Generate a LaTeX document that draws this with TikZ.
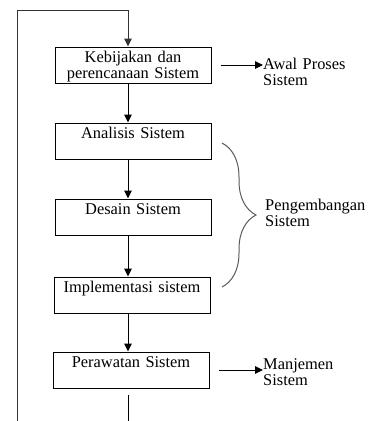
\documentclass[tikz,border=0pt]{standalone}
\usepackage{fontspec}
\setmainfont{Liberation Serif}
\usetikzlibrary{arrows.meta,decorations.pathreplacing}

\begin{document}
\begin{tikzpicture}[x=1pt,y=-1pt,font=\fontsize{16.4}{16}\selectfont,
  box/.style={draw,line width=1pt,text width=150pt,align=center,inner xsep=3pt,inner ysep=0pt,text height=15.5pt,text depth=20.5pt},
  side/.style={text width=105pt,align=left,inner sep=0pt},
  arr/.style={line width=1pt,-{Triangle[length=8pt,width=7.5pt]}},
  brace/.style={decorate,decoration={brace,amplitude=34pt},draw=black!65,line width=1pt}]
  \useasboundingbox (0,0) rectangle (371,421);

  %boxes
  \node[box] (b1) at (133,65)  {Kebijakan dan perencanaan Sistem};
  \node[box] (b2) at (133,141) {Analisis Sistem};
  \node[box] (b3) at (133,217) {Desain Sistem};
  \node[box] (b4) at (132,295) {Implementasi sistem};
  \node[box] (b5) at (131,370) {Perawatan Sistem};

  %loop
  \coordinate (loopbot) at (17,421);
  \coordinate (looptop) at (128,10);
  \coordinate (endbot) at (128,421);
  \draw[arr,draw=black!80] (loopbot) |- (looptop) -- (b1.north -| looptop);
  \draw[line width=1pt] ([yshift=-6pt]b5.south -| endbot) -- (endbot);

  \draw[arr] (b1.south -| looptop) -- (b2.north -| looptop);
  \draw[arr] (b2.south -| looptop) -- (b3.north -| looptop);
  \draw[arr] (b3.south -| looptop) -- (b4.north -| looptop);
  \draw[arr] (b4.south -| looptop) -- (b5.north -| looptop);

  %right side
  \node[side,anchor=base west] (awal) at (263,69) {Awal Proses\\Sistem};
  \node[side,anchor=base west] (kemb) at (265,210) {Pengembangan\\Sistem};
  \node[side,anchor=base west] (manj) at (263,369) {Manjemen\\Sistem};
  \draw[arr] ([xshift=9pt]b1.east) -- (awal.west |- b1.east);
  \draw[arr] ([xshift=9pt]b5.east) -- (manj.west |- b5.east);

  \draw[brace] (222,143) -- (222,287);

\end{tikzpicture}
\end{document}
